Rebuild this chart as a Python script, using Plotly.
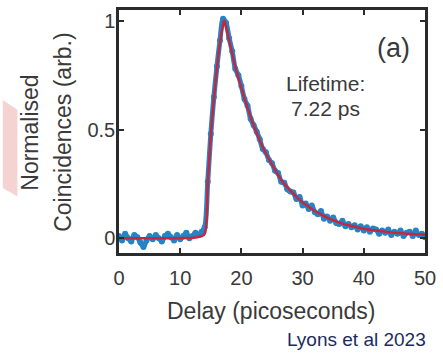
import plotly.graph_objects as go

delay = [i * 0.5 for i in range(101)]
coincidences = [
    0.01, -0.01, 0.02, 0.00, -0.015, 0.015, 0.005, -0.02, -0.04, -0.01,
    0.01, -0.005, 0.015, 0.00, -0.015, 0.01, 0.02, 0.005, -0.01, 0.015,
    -0.005, 0.01, 0.025, 0.00, 0.01, 0.025, 0.015, 0.03, 0.05, 0.26,
    0.48, 0.65, 0.79, 0.91, 1.01, 0.99, 0.92, 0.86, 0.78, 0.75,
    0.70, 0.64, 0.61, 0.55, 0.52, 0.49, 0.455, 0.41, 0.395, 0.36,
    0.345, 0.31, 0.30, 0.26, 0.255, 0.225, 0.215, 0.21, 0.18, 0.19,
    0.15, 0.16, 0.135, 0.15, 0.12, 0.11, 0.125, 0.09, 0.10, 0.08,
    0.095, 0.07, 0.065, 0.08, 0.055, 0.065, 0.05, 0.06, 0.04, 0.055,
    0.035, 0.05, 0.03, 0.045, 0.04, 0.02, 0.035, 0.025, 0.04, 0.015,
    0.03, 0.02, 0.035, 0.01, 0.025, 0.03, 0.01, 0.035, 0.015, 0.02,
    0.005,
]

# Fit curve (red)
fit_delay = [0, 4, 8, 12, 13, 13.5, 14, 14.5, 15, 15.5, 16, 16.5, 17, 17.2,
             17.5, 18, 18.5, 19, 20, 21, 22, 23, 24, 25, 26, 27, 28, 29, 30,
             31, 32, 33, 34, 35, 36, 38, 40, 42, 44, 46, 48, 50]
fit_values = [0.0, 0.0, 0.0, 0.002, 0.006, 0.01, 0.02, 0.25, 0.47, 0.64, 0.78,
              0.90, 0.98, 1.0, 0.97, 0.91, 0.85, 0.79, 0.69, 0.60, 0.52, 0.45,
              0.39, 0.34, 0.29, 0.25, 0.22, 0.19, 0.165, 0.145, 0.125, 0.11,
              0.095, 0.083, 0.072, 0.056, 0.044, 0.035, 0.028, 0.023, 0.019,
              0.016]

x_ticks = [0, 10, 20, 30, 40, 50]
x_tick_labels = ["0", "10", "20", "30", "40", "50"]
y_ticks = [0, 0.5, 1]
y_tick_labels = ["0", "0.5", "1"]

FONT = "Liberation Sans, Arial, sans-serif"
TXT = "#3a3a3a"

fig = go.Figure()
fig.add_trace(go.Scatter(x=delay, y=coincidences, mode="lines+markers",
                         line=dict(color="#2683c6", width=5, shape="spline", smoothing=0.8),
                         marker=dict(color="#2683c6", size=6),
                         hoverinfo="skip", cliponaxis=True))
fig.add_trace(go.Scatter(x=fit_delay, y=fit_values, mode="lines",
                         line=dict(color="#c2283f", width=2.5, shape="spline"),
                         hoverinfo="skip"))

axis_common = dict(showgrid=False, zeroline=False, showline=True, linecolor="#2b2b2b",
                   linewidth=2.5, mirror="ticks", ticks="inside", ticklen=5,
                   tickwidth=1.5, tickcolor="#2b2b2b", ticklabeloverflow="allow",
                   tickfont=dict(family=FONT, size=20, color=TXT))

fig.update_xaxes(range=[0, 50], tickvals=x_ticks, ticktext=x_tick_labels,
                 ticklabelstandoff=5, **axis_common)
fig.update_yaxes(range=[-0.068, 1.05], tickvals=y_ticks, ticktext=y_tick_labels,
                 ticklabelstandoff=-3, **axis_common)

# background decoration (pink block at left)
fig.add_shape(type="path", xref="paper", yref="paper", layer="below",
              path="M -0.380 0.630 L -0.332 0.589 L -0.332 0.232 L -0.380 0.268 Z",
              fillcolor="#f6d3d3", line=dict(width=0))

ann = []
ann.append(dict(text="Delay (picoseconds)", xref="paper", yref="paper", x=0.498, y=-0.24,
                showarrow=False, font=dict(family=FONT, size=23, color=TXT),
                xanchor="center", yanchor="middle"))
ann.append(dict(text="Normalised", xref="paper", yref="paper", x=-0.29, y=0.496,
                showarrow=False, textangle=-90, font=dict(family=FONT, size=23, color=TXT),
                xanchor="center", yanchor="middle"))
ann.append(dict(text="Coincidences (arb.)", xref="paper", yref="paper", x=-0.182, y=0.496,
                showarrow=False, textangle=-90, font=dict(family=FONT, size=23, color=TXT),
                xanchor="center", yanchor="middle"))
ann.append(dict(text="(a)", x=44.9, y=0.877, showarrow=False,
                font=dict(family=FONT, size=27, color=TXT), xanchor="center", yanchor="middle"))
ann.append(dict(text="Lifetime:", x=33.8, y=0.71, showarrow=False,
                font=dict(family=FONT, size=21, color=TXT), xanchor="center", yanchor="middle"))
ann.append(dict(text="7.22 ps", x=33.8, y=0.595, showarrow=False,
                font=dict(family=FONT, size=21, color=TXT), xanchor="center", yanchor="middle"))
ann.append(dict(text="Lyons et al 2023", xref="paper", yref="paper", x=1.0096, y=-0.354,
                showarrow=False, font=dict(family=FONT, size=19, color="#1c2b5e"),
                xanchor="right", yanchor="middle"))

fig.update_layout(width=443, height=353, margin=dict(l=119, r=11, t=7, b=100),
                  paper_bgcolor="white", plot_bgcolor="rgba(0,0,0,0)",
                  showlegend=False, annotations=ann)

fig.write_html("out.html")
